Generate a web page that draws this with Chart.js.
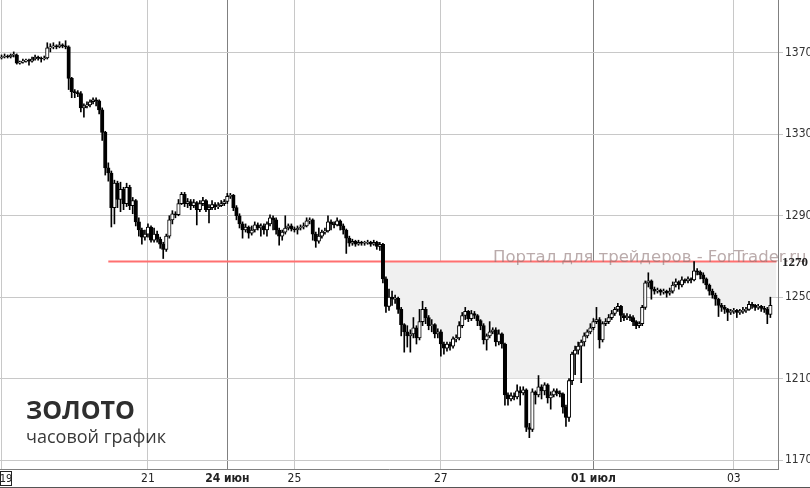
<!DOCTYPE html>
<html>
<head>
<meta charset="utf-8">
<script src="https://cdn.jsdelivr.net/npm/chart.js@4.4.1/dist/chart.umd.min.js"></script>
<style>
html,body{margin:0;padding:0;background:#fff;}
canvas{display:block;}
</style>
</head>
<body>
<canvas id="grafico" width="810" height="488"></canvas>
<script>
// золото, часовые свечи 19 июн - 03 июл
const firstOpen = 1367.5;
const closes = [
1368,1368.5,1368,1369,1369,1365,1365.5,1366,1366.5,1366,
1367,1368,1367.5,1367,1367.5,1372.5,1373,1373.5,1373,1374,
1373.5,1373,1357.5,1351,1350.5,1350,1343,1344,1344.5,1346,
1347,1346.5,1342,1331,1313.5,1311,1294,1306,1298,1303,
1296,1304,1295,1297.5,1287,1283,1279.5,1281,1284.5,1278,
1281,1278.5,1276,1273.5,1280,1288,1291,1290.5,1296,1300.5,
1296,1297,1295,1296.5,1293,1296,1297.5,1293,1294,1295.5,
1294.5,1295,1296,1297,1299.5,1300,1294,1290,1286,1283,
1284.5,1281.5,1283,1285.5,1284,1285,1283,1286,1289,1288,
1283,1280,1282,1284,1285,1283.5,1283,1284,1284.5,1285,
1287.5,1288,1281,1277.5,1280,1282,1282.5,1287,1286,1285.5,
1287.5,1285,1283,1279,1276.5,1277.5,1276,1277,1276.5,1276.5,
1277,1276,1277,1275,1276,1259,1245.5,1250,1249,1249.5,
1244,1236.5,1233,1231,1232,1235,1230,1238,1244,1240,
1236,1236.5,1232,1233,1227,1225,1227,1226,1229.5,1230,
1236,1241,1243,1239.5,1242,1241,1238.5,1236,1229,1231,
1233,1234,1228,1232,1227,1202,1200,1201.5,1201,1204,
1203,1204.5,1186,1185,1203.5,1202,1206,1204,1207,1200.5,
1202,1204,1203,1202.5,1196,1191,1209,1222,1224,1226,
1228,1231,1233,1235,1238,1239,1229,1237,1238,1240,
1242,1244,1245.5,1241,1240,1240.5,1240,1238,1236,1237,
1245,1257,1258,1254,1253,1253.5,1252.5,1253,1252,1253,
1256,1257.5,1256,1258.5,1258,1259,1258.5,1263,1262.5,1261,
1259,1256,1253,1251,1249,1246,1245,1244,1242.5,1243,
1243.5,1242.5,1243,1243.5,1244,1246.5,1246,1245,1245.5,1244.5,
1244,1241.5,1246
];
const highs = [
1369,1369.5,1369,1369.5,1370.5,1369.5,1366,1367,1367,1367,
1368,1369,1368.5,1368,1368.5,1375,1374.5,1375,1374,1375.5,
1374.5,1376,1373.5,1358,1352,1351.5,1351,1345,1346,1347,
1348,1348,1347,1343,1331.5,1316,1312,1307.5,1307,1306.5,
1304,1306,1305,1299,1298,1289,1284,1283,1286,1285,
1284,1282.5,1279.5,1277,1281,1290,1292.5,1292,1298,1301.5,
1301.5,1298.5,1298,1298,1297,1297.5,1299,1298,1295.5,1297.5,
1296.5,1296.5,1297.5,1298,1301,1301,1300.5,1295,1291,1287,
1286,1285,1285,1287,1286.5,1286,1286,1287,1290.5,1290,
1289,1284,1283,1290,1286,1286,1284.5,1285,1285.5,1286.5,
1289,1289,1288.5,1282,1284,1283,1284,1290,1288,1287,
1289,1288,1286,1283.5,1280,1278.5,1278,1278,1277.5,1277.5,
1278,1277.5,1278,1277.5,1277,1276.5,1260,1254,1253,1251,
1250,1245,1237,1236,1234,1240,1236,1244,1248,1245,
1241,1239,1237,1234.5,1234,1228,1228,1228,1230.5,1231.5,
1238,1242.5,1245,1243.5,1243.5,1243,1241.5,1239,1237,1232,
1238,1235,1235,1234,1232.5,1227.5,1203,1203,1203,1207,
1206,1206,1205,1188,1205,1204,1211.5,1207,1208,1207.5,
1203.5,1205,1205,1204,1203,1197,1210,1223,1226,1228,
1229,1232.5,1234,1237,1239.5,1245,1240,1238,1239.5,1241.5,
1243.5,1245,1247,1246,1242,1242,1241.5,1241,1238.5,1238,
1246,1258,1262,1258.5,1255,1254.5,1254,1254,1253.5,1254.5,
1257.5,1259,1258,1260,1259,1260,1259.5,1267.5,1264,1263,
1262,1259.5,1256.5,1254,1252,1249.5,1247,1246,1244.5,1244,
1244.5,1244,1244,1245,1245,1248,1247.5,1246.5,1246.5,1246,
1245.5,1245,1250
];
const lows = [
1367,1367.5,1367.5,1367.5,1368,1364.5,1364.5,1365,1365.5,1364,
1365.5,1366.5,1366.5,1365.5,1366.5,1367,1370.5,1372,1372,1372.5,
1372.5,1372,1352,1348,1348,1348.5,1341,1338.5,1343,1343.5,
1345,1344,1340,1327,1310,1307,1284.5,1286,1294,1292,
1293,1294.5,1293,1291,1285,1280,1276,1278,1279.5,1277,
1277,1277,1274,1269,1272.5,1279,1286,1289,1290,1295.5,
1294.5,1294,1293,1294,1285.5,1292,1295,1292,1286.5,1293,
1293,1293.5,1294.5,1295,1296,1298.5,1292.5,1288,1284,1279,
1282,1279,1280.5,1282,1283,1280,1281,1280,1285,1283,
1281,1275.5,1278,1281,1283,1282.5,1282,1281,1283,1283.5,
1284.5,1286,1278,1274.5,1276.5,1279,1281,1282,1283,1284,
1285,1283,1281,1271.5,1275,1275.5,1275,1275.5,1275.5,1275.5,
1276,1275,1275.5,1273.5,1273,1257,1242.5,1243.5,1246,1247,
1242,1231,1223,1225.5,1223,1230,1227,1229,1236,1237,
1234,1233,1230,1230,1221,1222,1223.5,1224,1225,1228,
1229,1235,1239,1238,1238.5,1239.5,1236,1234,1227,1224,
1230,1232,1226,1226.5,1225,1197,1197,1199,1199.5,1200,
1197,1202,1184,1181,1184,1197.5,1201,1200,1202,1198,
1195,1201,1201.5,1201,1193,1186.5,1189,1207,1212,1222,
1208,1226,1230,1232,1234,1237,1225,1228,1236,1237,
1239,1241,1243,1238,1238.5,1239,1238.5,1236,1234.5,1235,
1236,1244,1255,1249,1251.5,1252,1251,1251.5,1250,1251,
1252,1255,1254,1255,1257,1257,1257,1258,1261,1259,
1257,1254,1251,1249.5,1246,1240.5,1243,1242,1238.5,1241.5,
1242,1240,1241.5,1242,1242.5,1243.5,1244.5,1243.5,1244,1243,
1242.5,1237,1240
];
const dayLabels = {0:' ', 48:'21', 74:'24 июн', 96:'25', 144:'27', 194:'01 июл', 240:'03'};
const firstDay = '19';
const weekStarts = ['24 июн', '01 июл'];
const yTicks = [1170, 1210, 1250, 1290, 1330, 1370];
const levelLine = 1267.5;
const levelLabel = '1270';
const levelStart = 35;
const fillStart = 124;
const fillFloor = 1210;
const totalSlots = 255;
const titulo = 'ЗОЛОТО';
const subtitulo = 'часовой график';
const marca = 'Портал для трейдеров - ForTrader.ru';

const fuente = '"Liberation Sans Narrow", "DejaVu Sans Condensed", "Arial Narrow", sans-serif';

var etiquetas = [];
for (i = 0; i < totalSlots; i++) etiquetas.push(dayLabels[i] || '');

var opens = closes.map((c, i) => i == 0 ? firstOpen : closes[i - 1]);

var cuerpos = closes.map((c, i) => [opens[i], c]);
var mechas = highs.map((h, i) => [lows[i], h]);
var colores = closes.map((c, i) => c >= opens[i] ? '#ffffff' : '#000000');
var linea = etiquetas.map((e, i) => i >= levelStart ? levelLine : null);
var borde = etiquetas.map((e, i) => {
    if (i < fillStart) return null;
    var h = i < highs.length ? highs[i] : highs[highs.length - 1];
    return Math.min(levelLine, Math.max(fillFloor, h));
});

const decor = {
    id: 'decor',
    afterDraw(chart) {
        const ctx = chart.ctx;
        const y = chart.scales.y;
        const yl = y.getPixelForValue(levelLine);
        ctx.save();
        // marca de agua
        ctx.font = '16.5px "DejaVu Sans"';
        ctx.fillStyle = 'rgba(140,115,115,0.6)';
        ctx.textAlign = 'left';
        ctx.textBaseline = 'alphabetic';
        ctx.fillText(marca, 493, yl);
        // etiqueta del nivel
        ctx.font = 'bold 13px "Liberation Serif"';
        ctx.fillStyle = '#222';
        ctx.textBaseline = 'middle';
        ctx.fillText(levelLabel, 782, yl + 1);
        // titulo
        ctx.textBaseline = 'alphabetic';
        ctx.fillStyle = '#2e2e2e';
        ctx.font = 'bold 25px "Open Sans"';
        ctx.fillText(titulo, 26, 419);
        ctx.fillStyle = '#3a3a3a';
        ctx.font = '18px "Open Sans"';
        ctx.fillText(subtitulo, 26, 443);
        // primer dia
        ctx.strokeStyle = '#222';
        ctx.lineWidth = 1;
        ctx.strokeRect(0.5, 471.5, 11, 14);
        ctx.font = '11px ' + fuente;
        ctx.fillStyle = '#222';
        ctx.textAlign = 'center';
        ctx.textBaseline = 'middle';
        ctx.fillText(firstDay, 6, 479);
        ctx.fillStyle = '#555';
        ctx.fillRect(0, 487, 810, 1);
        ctx.restore();
    }
};

var grafico = new Chart(document.getElementById('grafico').getContext('2d'), {
    type: 'bar',
    data: {
        labels: etiquetas,
        datasets: [{
            data: cuerpos,
            backgroundColor: colores,
            borderColor: '#000',
            borderWidth: 1,
            borderSkipped: false,
            barThickness: 3.5,
            minBarLength: 1,
            grouped: false,
            order: 1
        }, {
            data: mechas,
            backgroundColor: '#000',
            borderWidth: 0,
            barThickness: 1,
            grouped: false,
            order: 2
        }, {
            type: 'line',
            data: linea,
            borderColor: '#ff7070',
            borderWidth: 2,
            pointRadius: 0,
            fill: false,
            order: 3
        }, {
            type: 'line',
            data: borde,
            borderWidth: 0,
            borderColor: 'rgba(0,0,0,0)',
            backgroundColor: '#f0f0f0',
            pointRadius: 0,
            fill: {value: levelLine},
            order: 5
        }]
    },
    options: {
        responsive: false,
        animation: false,
        devicePixelRatio: 1,
        layout: {padding: 0},
        plugins: {
            legend: {display: false},
            tooltip: {enabled: false}
        },
        scales: {
            x: {
                offset: true,
                grid: {
                    offset: false,
                    drawTicks: false,
                    color: (c) => {
                        var l = c.tick ? c.tick.label : '';
                        if (!l) return 'rgba(0,0,0,0)';
                        return weekStarts.includes(l) ? '#808080' : '#c8c8c8';
                    }
                },
                border: {color: '#808080'},
                ticks: {
                    autoSkip: false,
                    maxRotation: 0,
                    padding: 3,
                    color: '#222',
                    font: (c) => ({
                        family: fuente,
                        size: 12,
                        weight: (c.tick && weekStarts.includes(c.tick.label)) ? 'bold' : 'normal'
                    }),
                    callback: function (v) { return this.getLabelForValue(v); }
                },
                afterFit: (s) => { s.height = 19; s.paddingLeft = 0; s.paddingRight = 0; }
            },
            y: {
                position: 'right',
                min: 1165.6,
                max: 1396,
                afterBuildTicks: (s) => { s.ticks = yTicks.map(v => ({value: v})); },
                grid: {color: '#c8c8c8', tickLength: 5},
                border: {color: '#808080'},
                ticks: {
                    color: '#333',
                    padding: 2,
                    font: {family: fuente, size: 12},
                    callback: (v) => String(v)
                },
                afterFit: (s) => { s.width = 32; s.paddingTop = 0; s.paddingBottom = 0; }
            }
        }
    },
    plugins: [decor]
});
</script>
</body>
</html>
